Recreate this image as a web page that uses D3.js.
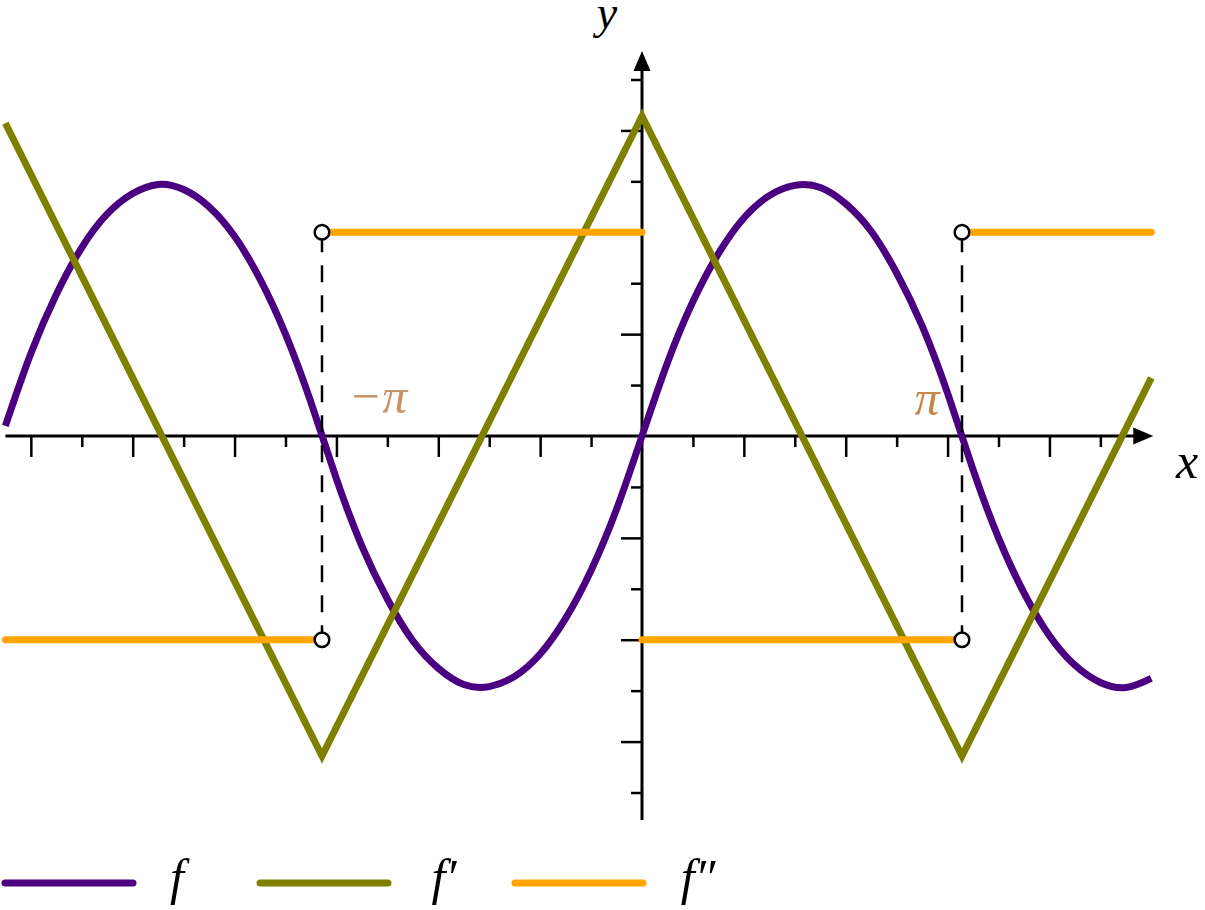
<!DOCTYPE html>
<html>
<head>
<meta charset="utf-8">
<script src="https://cdn.jsdelivr.net/npm/d3@7"></script>
<style>
  html, body { margin: 0; padding: 0; background: #fff; }
  svg { display: block; }
  .math { font-family: "Liberation Serif", "DejaVu Serif", serif; font-style: italic; }
</style>
</head>
<body>
<svg id="chart" width="1205" height="910"></svg>
<script>
// ---- data ----
const PI = Math.PI;
const fX  = [-6.25, -6.0, -5.75, -5.5, -5.25, -5.0, -4.75, -4.5, -4.25, -4.0, -3.75, -3.5, -3.25,
             -3.0, -2.75, -2.5, -2.25, -2.0, -1.75, -1.5, -1.25, -1.0, -0.75, -0.5, -0.25, 0.0,
             0.25, 0.5, 0.75, 1.0, 1.25, 1.5, 1.75, 2.0, 2.25, 2.5, 2.75, 3.0, 3.25, 3.5, 3.75,
             4.0, 4.25, 4.5, 4.75, 5.0];
const fY  = [0.10, 0.81, 1.39, 1.85, 2.18, 2.38, 2.47, 2.42, 2.25, 1.96, 1.54, 1.00, 0.33,
             -0.42, -1.08, -1.60, -2.01, -2.28, -2.44, -2.46, -2.36, -2.14, -1.79, -1.32, -0.72, 0.00,
             0.72, 1.32, 1.79, 2.14, 2.36, 2.46, 2.44, 2.28, 2.01, 1.60, 1.08, 0.42, -0.33, -1.00, -1.54,
             -1.96, -2.25, -2.42, -2.47, -2.38];
const f1X = [-6.25, -3.1416, 0.0, 3.1416, 5.0];
const f1Y = [3.07, -3.1416, 3.1416, -3.1416, 0.57];
// f'' pieces: [x start, x end, value]
const f2Start = [-6.25, -3.1416, 0.0, 3.1416];
const f2End   = [-3.1416, 0.0, 3.1416, 5.0];
const f2Val   = [-2, 2, -2, 2];
const jumpX   = [-3.1416, 3.1416];
const jumpLabels = ["\u2212\u03C0", "\u03C0"];
const xMajorTicks = [-6, -5, -4, -3, -2, -1, 1, 2, 3, 4];
const xMinorTicks = [-5.5, -4.5, -3.5, -2.5, -1.5, -0.5, 0.5, 1.5, 2.5, 3.5, 4.5];
const yMajorTicks = [-3, -2, -1, 1, 2, 3];
const yMinorTicks = [-3.5, -2.5, -1.5, -0.5, 0.5, 1.5, 2.5, 3.5];
const legendNames = ["f", "f\u2032", "f\u2033"];
const colors = ["#4B0082", "#808000", "#FFA500"];

// ---- scales ----
const unit = 320 / PI;           // px per unit
const ox = 642, oy = 436;
const x = d3.scaleLinear().domain([-6.25, 5.0]).range([ox - 6.25 * unit, ox + 5.0 * unit]);
const y = d3.scaleLinear().domain([-3.77, 3.76]).range([oy + 3.77 * unit, oy - 3.76 * unit]);

const svg = d3.select("#chart");

// ---- axes ----
const axG = svg.append("g");
axG.append("line").attr("x1", x(-6.25)).attr("x2", x(5.0) - 4).attr("y1", y(0)).attr("y2", y(0))
  .attr("stroke", "#000").attr("stroke-width", 3);
axG.append("line").attr("x1", x(0)).attr("x2", x(0)).attr("y1", y(-3.77)).attr("y2", y(3.76) + 4)
  .attr("stroke", "#000").attr("stroke-width", 3);
// arrow heads
const xt = x(5.0) + 2, yt = y(0);
axG.append("path").attr("d", `M${xt},${yt} L${xt-20},${yt-8.5} L${xt-20},${yt+8.5} Z`).attr("fill", "#000");
const yx = x(0), yy = y(3.76) - 2;
axG.append("path").attr("d", `M${yx},${yy} L${yx-8.5},${yy+20} L${yx+8.5},${yy+20} Z`).attr("fill", "#000");

function styleTicks(g) {
  g.select(".domain").remove();
  g.selectAll(".tick line").attr("stroke", "#000").attr("stroke-width", 2.5);
  g.selectAll(".tick text").remove();
}
svg.append("g").attr("transform", `translate(0,${y(0)})`)
  .call(d3.axisBottom(x).tickValues(xMajorTicks).tickSize(21).tickFormat("")).call(styleTicks);
svg.append("g").attr("transform", `translate(0,${y(0)})`)
  .call(d3.axisBottom(x).tickValues(xMinorTicks).tickSize(11).tickFormat("")).call(styleTicks);
svg.append("g").attr("transform", `translate(${x(0)},0)`)
  .call(d3.axisLeft(y).tickValues(yMajorTicks).tickSize(21).tickFormat("")).call(styleTicks);
svg.append("g").attr("transform", `translate(${x(0)},0)`)
  .call(d3.axisLeft(y).tickValues(yMinorTicks).tickSize(11).tickFormat("")).call(styleTicks);

// axis labels
svg.append("text").attr("class", "math").attr("x", 607).attr("y", 28)
  .attr("text-anchor", "middle").attr("font-size", 46).text("y");
svg.append("text").attr("class", "math").attr("x", 1187).attr("y", 478)
  .attr("text-anchor", "middle").attr("font-size", 50).text("x");

// ---- curves ----
const fData = fX.map((v, i) => [v, fY[i]]);
const f1Data = f1X.map((v, i) => [v, f1Y[i]]);

svg.append("path").datum(fData)
  .attr("d", d3.line().x(d => x(d[0])).y(d => y(d[1])).curve(d3.curveNatural))
  .attr("fill", "none").attr("stroke", colors[0]).attr("stroke-width", 7);
svg.append("path").datum(f1Data)
  .attr("d", d3.line().x(d => x(d[0])).y(d => y(d[1])))
  .attr("fill", "none").attr("stroke", colors[1]).attr("stroke-width", 7).attr("stroke-linejoin", "miter");
svg.append("g").selectAll("line").data(f2Start).join("line")
  .attr("x1", d => x(d)).attr("x2", (d, i) => x(f2End[i]))
  .attr("y1", (d, i) => y(f2Val[i])).attr("y2", (d, i) => y(f2Val[i]))
  .attr("stroke", colors[2]).attr("stroke-width", 7).attr("stroke-linecap", "round");

// dashed jump lines
svg.append("g").selectAll("line").data(jumpX).join("line")
  .attr("x1", d => x(d)).attr("x2", d => x(d)).attr("y1", y(2)).attr("y2", y(-2))
  .attr("stroke", "#000").attr("stroke-width", 2.5)
  .attr("stroke-dasharray", "17,13").attr("stroke-dashoffset", 27);

// open circles
const circ = [];
jumpX.forEach(v => { circ.push([v, 2]); circ.push([v, -2]); });
svg.append("g").selectAll("circle").data(circ).join("circle")
  .attr("cx", d => x(d[0])).attr("cy", d => y(d[1])).attr("r", 7.3)
  .attr("fill", "#fff").attr("stroke", "#000").attr("stroke-width", 2.5);

// jump labels
svg.append("text").attr("class", "math").attr("x", 378).attr("y", 413)
  .attr("text-anchor", "middle").attr("font-size", 50).attr("fill", "#C99366").text(jumpLabels[0]);
svg.append("text").attr("class", "math").attr("x", 927).attr("y", 415)
  .attr("text-anchor", "middle").attr("font-size", 50).attr("fill", "#C8864A").text(jumpLabels[1]);

// ---- legend ----
const legX = [2, 257, 512];
const legLabelX = [177, 444, 698];
const lg = svg.append("g");
legendNames.forEach((name, i) => {
  lg.append("line").attr("x1", legX[i] + 3).attr("x2", legX[i] + 131).attr("y1", 883).attr("y2", 883)
    .attr("stroke", colors[i]).attr("stroke-width", 7).attr("stroke-linecap", "round");
  lg.append("text").attr("class", "math").attr("x", legLabelX[i]).attr("y", 894)
    .attr("text-anchor", "middle").attr("font-size", 50).text(name);
});
</script>
</body>
</html>
